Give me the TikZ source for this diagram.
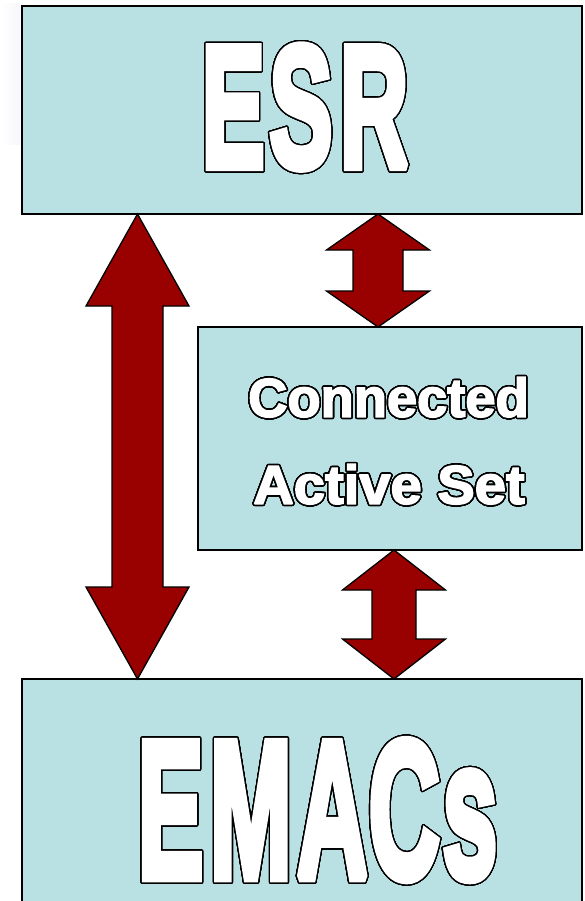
\documentclass[tikz,border=0pt]{standalone}
\usepackage{fontspec}
\setmainfont{Liberation Sans}
\newfontfamily\heavybig{Liberation Sans}[BoldFeatures={FakeBold=5}]
\newfontfamily\heavysmall{Liberation Sans}[BoldFeatures={FakeBold=3}]
\usepackage{graphicx}
\usepackage[copies]{contour}
\contournumber{48}
\usetikzlibrary{calc}

\definecolor{boxfill}{RGB}{185,224,227}
\definecolor{arrowred}{RGB}{153,0,0}
\definecolor{haze}{RGB}{247,247,251}

% white letters with a black outline, stretched to a given size:
% font, width, height, outline thickness, text
% (a low miter limit keeps the emboldened glyph corners from spiking)
\newcommand{\outlined}[5]{%
  {\contourlength{#4}\color{white}%
   \contour{black}{\resizebox{#2}{#3}{\special{pdf:literal direct 1.6 M}#1\bfseries #5}}}}

% block double arrow between two tips: top tip, bottom tip,
% half width of the heads, half width of the shaft, length of a head (pt)
\newcommand{\dblblock}[5]{%
  \draw[blockarrow] let \p1=(#1), \p2=(#2) in
    (\x1,\y1) -- (\x1+#3pt,\y1-#5pt) -- (\x1+#4pt,\y1-#5pt)
    -- (\x1+#4pt,\y2+#5pt) -- (\x1+#3pt,\y2+#5pt) -- (\x2,\y2)
    -- (\x1-#3pt,\y2+#5pt) -- (\x1-#4pt,\y2+#5pt)
    -- (\x1-#4pt,\y1-#5pt) -- (\x1-#3pt,\y1-#5pt) -- cycle;}

\tikzset{
  box/.style={draw=black, line width=1.6pt, fill=boxfill, inner sep=0pt,
              outer sep=0pt, anchor=north west},
  blockarrow/.style={draw=black, line width=1.3pt, fill=arrowred,
                     line join=miter},
  word/.style={anchor=base, inner sep=0pt, outer sep=0pt}
}

\begin{document}
\begin{tikzpicture}[x=1pt, y=-1pt]
  \useasboundingbox (0,0) rectangle (584,901);

  % faint shading at the upper left edge
  \fill[left color=white, right color=haze] (0,4) rectangle (20,145);

  % boxes
  \node[box, minimum width=560pt, minimum height=208pt] (esr) at (22,6) {};
  \node[box, minimum width=384pt, minimum height=223pt] (cas) at (198,327) {};
  \node[box, minimum width=560pt, minimum height=240pt] (emacs) at (22,679) {};

  % labels
  \node[word] (esrlabel) at (305,166.8)
    {\outlined{\heavybig}{206.4pt}{121pt}{1.3pt}{E\kern0.5pt S\kern0.8pt R}};
  \node[word] (caslabel1) at (388.5,416.7)
    {\outlined{\heavysmall}{280.4pt}{39.4pt}{1.5pt}{Connected}};
  \node[word] (caslabel2) at (389,503.7)
    {\outlined{\heavysmall}{271.4pt}{39.4pt}{1.5pt}{Active Set}};
  \node[word] (emacslabel) at (317.5,877.5)
    {\outlined{\heavybig}{359.4pt}{136.5pt}{1.3pt}{E\kern0.7pt M\kern0.5pt A\kern0.1pt C\kern0.3pt s}};

  % arrow end points on the box edges
  \coordinate (a1top) at ($(esr.south west)+(115.5,0)$);
  \coordinate (a1bot) at ($(emacs.north west)+(115.5,0)$);
  \coordinate (a2top) at ($(esr.south west)+(356,0)$);
  \coordinate (a2bot) at ($(cas.north west)+(180,0)$);
  \coordinate (a3top) at ($(cas.south west)+(196,0)$);
  \coordinate (a3bot) at ($(emacs.north west)+(372,0)$);

  % double arrows
  \dblblock{a1top}{a1bot}{51.5}{25.5}{92}
  \dblblock{a2top}{a2bot}{51.5}{25}{36}
  \dblblock{a3top}{a3bot}{51.5}{22}{40}
\end{tikzpicture}
\end{document}
